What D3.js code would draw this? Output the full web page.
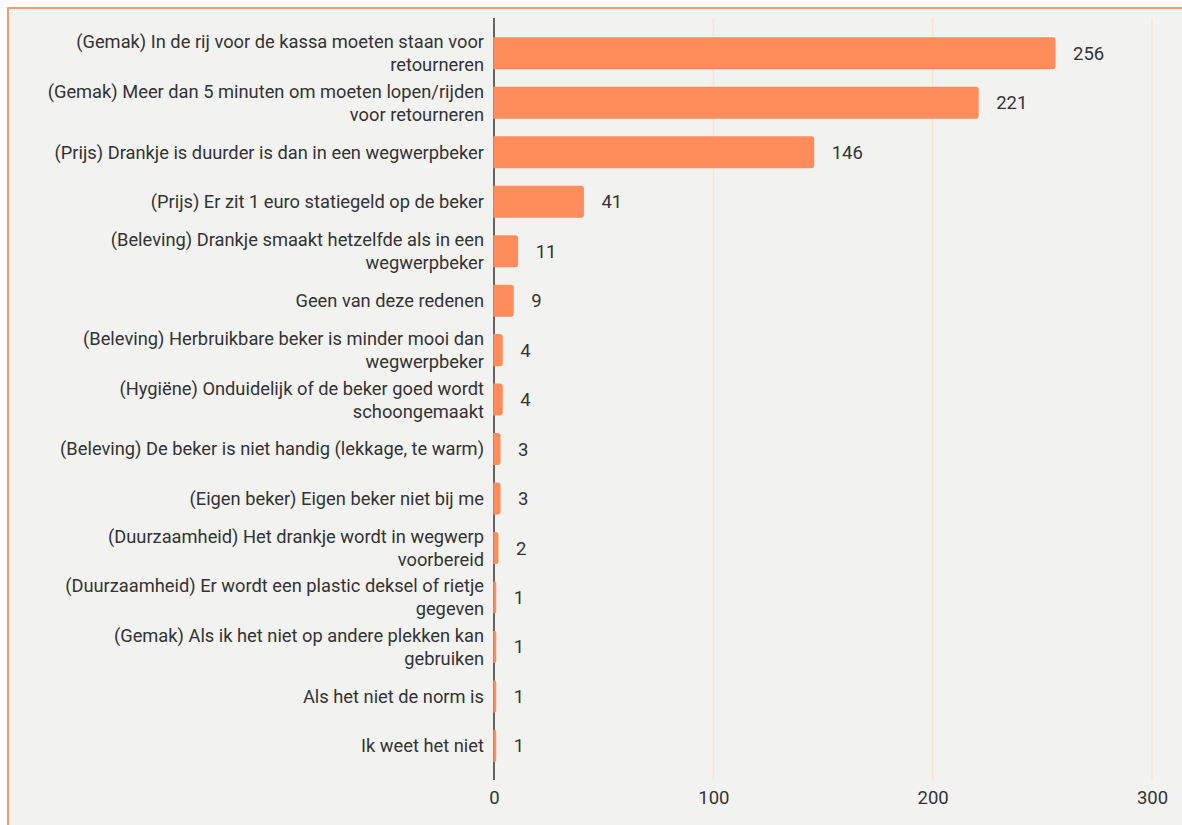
<!DOCTYPE html>
<html>
<head>
<meta charset="utf-8">
<script src="https://cdn.jsdelivr.net/npm/d3@7"></script>
<style>
  html, body { margin: 0; padding: 0; background: #ffffff; }
  svg { display: block; }
  text { font-family: Roboto, "Noto Sans", sans-serif; }
</style>
</head>
<body>
<svg id="chart" width="1182" height="825"></svg>
<script>
// Reasons (category labels, line breaks marked with "\n")
const categories = [
  "(Gemak) In de rij voor de kassa moeten staan voor\nretourneren",
  "(Gemak) Meer dan 5 minuten om moeten lopen/rijden\nvoor retourneren",
  "(Prijs) Drankje is duurder is dan in een wegwerpbeker",
  "(Prijs) Er zit 1 euro statiegeld op de beker",
  "(Beleving) Drankje smaakt hetzelfde als in een\nwegwerpbeker",
  "Geen van deze redenen",
  "(Beleving) Herbruikbare beker is minder mooi dan\nwegwerpbeker",
  "(Hygiëne) Onduidelijk of de beker goed wordt\nschoongemaakt",
  "(Beleving) De beker is niet handig (lekkage, te warm)",
  "(Eigen beker) Eigen beker niet bij me",
  "(Duurzaamheid) Het drankje wordt in wegwerp\nvoorbereid",
  "(Duurzaamheid) Er wordt een plastic deksel of rietje\ngegeven",
  "(Gemak) Als ik het niet op andere plekken kan\ngebruiken",
  "Als het niet de norm is",
  "Ik weet het niet"
];

// Number of responses per reason
const counts = [256, 221, 146, 41, 11, 9, 4, 4, 3, 3, 2, 1, 1, 1, 1];

// X axis tick values
const xTicks = [0, 100, 200, 300];

const data = categories.map((c, i) => ({ label: c, value: counts[i] }));

const svg = d3.select("#chart");

// Panel background with orange frame (top and left edges visible)
svg.append("rect")
  .attr("x", 8).attr("y", 8)
  .attr("width", 1300).attr("height", 900)
  .attr("fill", "#f2f2f1")
  .attr("stroke", "#f39a70")
  .attr("stroke-width", 2);

const plotTop = 18, plotBottom = 780;

const x = d3.scaleLinear()
  .domain([0, 300])
  .range([494, 1152]);

const y = d3.scaleBand()
  .domain(categories)
  .range([28.5, 770.7])
  .paddingInner(0.353)
  .paddingOuter(0.1765);

// Vertical grid lines
svg.append("g")
  .selectAll("line")
  .data(xTicks.filter(t => t > 0))
  .join("line")
  .attr("x1", d => x(d)).attr("x2", d => x(d))
  .attr("y1", plotTop).attr("y2", plotBottom)
  .attr("stroke", "#fae4d3")
  .attr("stroke-width", 1.5);

// Baseline axis line (drawn beneath the bars)
svg.append("line")
  .attr("x1", x(0)).attr("x2", x(0))
  .attr("y1", plotTop).attr("y2", plotBottom)
  .attr("stroke", "#333333")
  .attr("stroke-width", 1.5);

// Bars (square left end, rounded right end)
const r = 3;
svg.append("g")
  .selectAll("path")
  .data(data)
  .join("path")
  .attr("fill", "#ff8c5a")
  .attr("d", d => {
    const x0 = x(0) - 0.75, x1 = x(d.value);
    const y0 = y(d.label), h = y.bandwidth();
    const rr = Math.min(r, (x1 - x0) / 2);
    return `M${x0},${y0}H${x1 - rr}Q${x1},${y0} ${x1},${y0 + rr}` +
           `V${y0 + h - rr}Q${x1},${y0 + h} ${x1 - rr},${y0 + h}H${x0}Z`;
  });

// Value labels
svg.append("g")
  .selectAll("text")
  .data(data)
  .join("text")
  .attr("x", d => x(d.value) + 17.5)
  .attr("y", d => y(d.label) + y.bandwidth() / 2)
  .attr("dy", "0.35em")
  .attr("font-size", 18.5)
  .attr("fill", "#333333")
  .text(d => d.value);

// Category labels, right aligned next to the axis
const catG = svg.append("g");
data.forEach(d => {
  const lines = d.label.split("\n");
  const cy = y(d.label) + y.bandwidth() / 2;
  const lh = 23;
  const t = catG.append("text")
    .attr("text-anchor", "end")
    .attr("font-size", 18.3)
    .attr("fill", "#333333");
  lines.forEach((ln, i) => {
    t.append("tspan")
      .attr("x", 484)
      .attr("y", cy + (i - (lines.length - 1) / 2) * lh)
      .attr("dy", "0.35em")
      .text(ln);
  });
});

// X axis tick labels
const xAxis = d3.axisBottom(x)
  .tickValues(xTicks)
  .tickSize(0)
  .tickPadding(0)
  .tickFormat(d3.format("d"));

const axG = svg.append("g")
  .attr("transform", `translate(0, ${plotBottom + 11})`)
  .call(xAxis);
axG.select(".domain").remove();
axG.selectAll("text")
  .attr("font-size", 18.5)
  .attr("fill", "#333333")
  .attr("font-family", "Roboto, 'Noto Sans', sans-serif");
</script>
</body>
</html>
